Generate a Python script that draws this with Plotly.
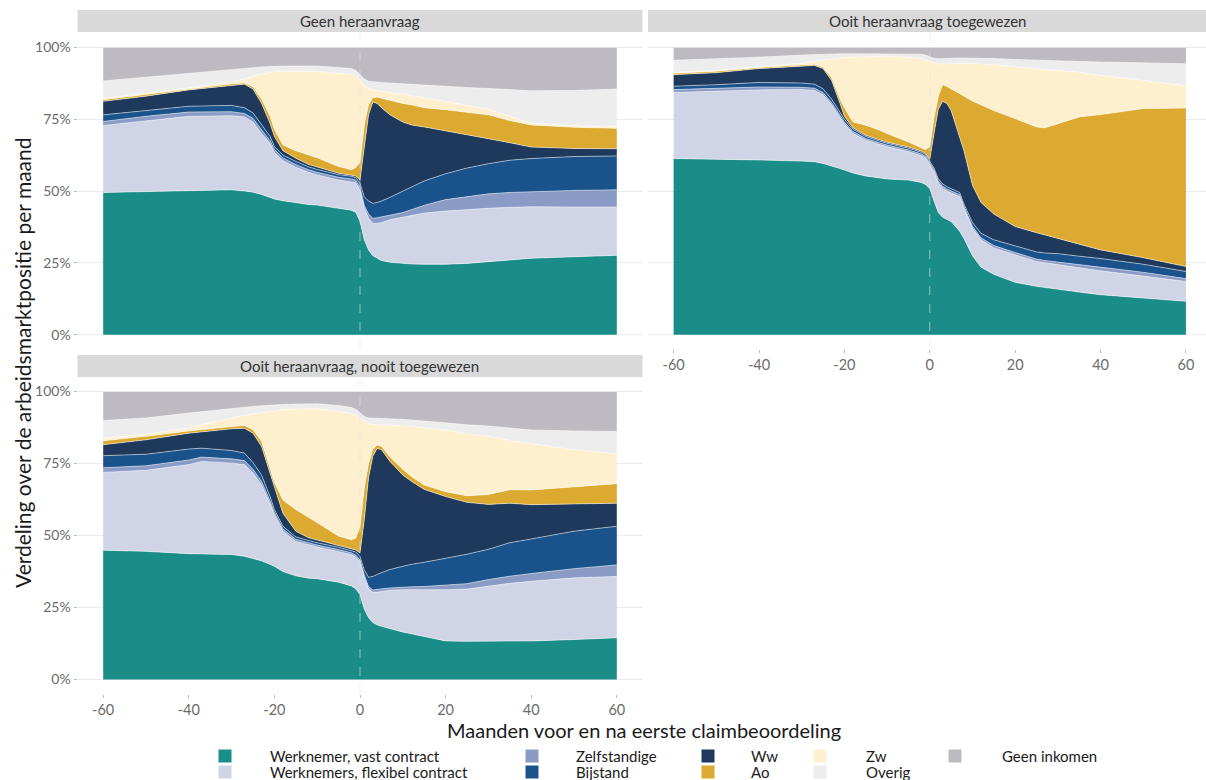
import plotly.graph_objects as go

W, H = 1206, 780

categories = ["Werknemer, vast contract", "Werknemers, flexibel contract", "Zelfstandige",
              "Bijstand", "Ww", "Ao", "Zw", "Overig", "Geen inkomen"]
colors = ["rgba(2,129,124,0.9)", "rgba(202,207,227,0.9)", "rgba(125,144,192,0.9)",
          "rgba(1,63,126,0.9)", "rgba(6,36,74,0.9)", "rgba(216,161,27,0.9)",
          "rgba(254,238,202,0.9)", "rgba(235,235,235,0.9)", "rgba(182,178,187,0.9)"]
legend_colors = ["#1B8E89", "#CFD4E6", "#8A9BC6", "#1A528B", "#1F3A5C",
                 "#DCAA31", "#FEF0CF", "#EDEDED", "#BDBAC2"]

panel_titles = ["Geen heraanvraag", "Ooit heraanvraag toegewezen", "Ooit heraanvraag, nooit toegewezen"]

# ---- Panel 1: Geen heraanvraag ----
x1 = [-60, -50, -40, -30, -27, -25, -23, -21, -20, -18, -15, -12, -10, -5, -2, -1, 0,
      1, 2, 3, 4, 5, 7, 10, 12, 15, 20, 25, 30, 35, 40, 50, 60]
p1_vast = [49.5, 49.8, 50.2, 50.4, 50.0, 49.6, 48.8, 47.8, 47.2, 46.6, 45.9, 45.3, 45.1, 44.1, 43.3, 42.6, 39.5,
           33.0, 29.5, 27.5, 26.5, 25.8, 25.2, 24.8, 24.6, 24.5, 24.5, 24.8, 25.3, 26.0, 26.6, 27.0, 27.6]
p1_flex = [23.3, 24.7, 25.8, 25.8, 25.8, 24.4, 21.2, 18.7, 16.3, 13.9, 12.4, 11.2, 10.5, 9.7, 10.0, 10.3, 10.8,
           11.0, 11.0, 11.3, 12.2, 13.2, 14.8, 16.0, 16.9, 17.8, 18.5, 18.8, 18.7, 18.3, 17.9, 17.4, 16.8]
p1_zelf = [1.4, 1.5, 1.5, 1.4, 1.2, 1.3, 1.3, 1.0, 1.0, 1.0, 0.9, 0.9, 0.9, 1.0, 0.9, 0.9, 1.2,
           1.0, 1.5, 1.7, 2.0, 2.0, 1.8, 1.7, 2.0, 2.7, 4.0, 4.4, 5.0, 5.2, 5.3, 5.8, 6.0]
p1_bijstand = [2.3, 2.0, 2.0, 2.2, 2.0, 1.9, 1.7, 1.5, 1.0, 1.0, 1.1, 1.0, 1.0, 0.9, 0.9, 0.9, 1.2,
               3.0, 4.5, 5.2, 5.3, 5.5, 6.0, 7.5, 8.0, 8.5, 9.0, 10.0, 10.5, 11.2, 11.5, 11.8, 11.8]
p1_ww = [4.7, 5.0, 5.7, 7.1, 8.2, 8.3, 7.5, 4.5, 3.5, 1.5, 1.1, 0.8, 0.8, 0.5, 0.4, 0.5, 1.1,
         17.5, 30.0, 35.3, 34.5, 32.5, 28.7, 24.0, 21.5, 18.8, 15.0, 11.7, 8.7, 6.1, 4.0, 2.8, 2.5]
p1_ao = [0.6, 0.6, 0.4, 0.4, 0.4, 0.8, 1.5, 2.5, 2.5, 2.0, 2.6, 3.2, 3.3, 2.3, 1.9, 3.0, 6.2,
         7.5, 3.5, 1.5, 2.2, 3.3, 5.0, 6.5, 7.0, 6.7, 7.3, 7.8, 8.3, 7.7, 7.7, 7.4, 7.1]
p1_zw = [0.5, 0.4, 0.3, 0.7, 1.4, 3.7, 8.8, 15.2, 20.0, 25.7, 27.8, 29.3, 30.0, 32.5, 33.2, 32.0, 28.6,
         13.5, 5.6, 2.7, 2.3, 2.5, 2.8, 3.1, 3.2, 3.5, 2.9, 2.5, 2.0, 1.5, 0.6, 0.5, 0.6]
p1_overig = [6.0, 5.6, 5.1, 4.4, 3.8, 3.0, 2.4, 2.1, 1.9, 1.8, 1.7, 1.8, 1.9, 2.0, 2.0, 1.8, 1.9,
             2.5, 2.6, 2.8, 2.9, 3.0, 3.3, 3.7, 3.9, 4.3, 5.2, 6.0, 7.2, 9.2, 11.3, 12.3, 13.1]
p1_geen = [11.7, 10.4, 9.0, 7.6, 7.2, 7.0, 6.8, 6.7, 6.6, 6.5, 6.5, 6.5, 6.5, 7.0, 7.4, 8.0, 9.5,
           11.0, 11.8, 12.0, 12.1, 12.2, 12.4, 12.7, 12.9, 13.2, 13.6, 14.0, 14.3, 14.8, 15.1, 15.0, 14.5]

# ---- Panel 2: Ooit heraanvraag toegewezen ----
x2 = [-60, -50, -40, -30, -27, -25, -23, -21, -20, -18, -15, -12, -10, -5, -2, -1, 0,
      1, 2, 3, 4, 5, 7, 8, 10, 12, 15, 20, 25, 27, 30, 35, 40, 50, 60]
p2_vast = [61.3, 61.1, 60.8, 60.4, 60.2, 59.6, 58.8, 57.8, 57.3, 56.3, 55.2, 54.6, 54.2, 53.8, 53.0, 52.3, 50.9,
           46.5, 42.5, 40.9, 40.0, 39.4, 36.0, 33.5, 27.5, 23.5, 21.0, 18.2, 16.8, 16.4, 15.6, 14.8, 13.9, 12.7, 11.6]
p2_flex = [23.0, 23.7, 24.4, 24.9, 24.8, 23.9, 21.2, 17.7, 16.0, 13.7, 12.5, 11.7, 11.2, 9.9, 9.3, 9.2, 7.9,
           10.0, 10.2, 10.1, 10.0, 9.9, 12.0, 10.5, 9.5, 9.5, 9.2, 9.6, 8.7, 8.6, 8.7, 8.4, 8.3, 7.7, 6.9]
p2_zelf = [1.0, 1.0, 1.0, 0.8, 0.8, 0.8, 0.8, 0.8, 0.7, 0.7, 0.6, 0.6, 0.6, 0.6, 0.6, 0.6, 0.7,
           0.8, 0.8, 0.7, 0.7, 0.7, 0.7, 0.7, 0.7, 0.7, 0.8, 0.8, 0.8, 0.8, 1.0, 1.2, 1.3, 1.3, 1.0]
p2_bijstand = [1.2, 1.2, 1.6, 1.5, 1.4, 1.3, 1.2, 1.2, 1.0, 0.8, 0.7, 0.6, 0.6, 0.6, 0.6, 0.6, 0.7,
               0.7, 0.8, 0.8, 0.8, 0.8, 0.8, 0.8, 1.3, 1.6, 2.0, 2.3, 2.5, 2.6, 2.9, 2.9, 3.0, 2.8, 2.5]
p2_ww = [4.0, 4.2, 4.8, 5.9, 6.5, 7.0, 6.5, 2.9, 1.0, 0.5, 0.4, 0.4, 0.4, 0.4, 0.4, 0.4, 0.8,
         12.0, 24.2, 28.7, 29.0, 27.2, 19.5, 18.5, 13.0, 10.7, 9.0, 6.7, 6.7, 6.3, 5.3, 4.2, 3.0, 2.3, 1.7]
p2_ao = [0.5, 0.5, 0.4, 0.4, 0.4, 0.5, 1.0, 1.6, 3.0, 2.0, 3.5, 3.4, 3.0, 1.8, 1.1, 1.3, 4.5,
         5.5, 4.5, 5.8, 6.0, 7.5, 14.9, 19.0, 29.3, 34.0, 36.0, 37.6, 36.8, 37.3, 40.0, 44.3, 47.1, 51.9, 55.2]
p2_zw = [0.3, 0.3, 0.3, 0.6, 1.1, 2.5, 6.5, 14.3, 17.4, 22.6, 23.9, 25.6, 26.9, 29.5, 31.1, 31.2, 29.5,
         19.1, 11.3, 7.2, 7.7, 8.8, 10.6, 11.5, 13.1, 14.3, 16.0, 18.0, 20.3, 20.5, 18.5, 15.5, 13.7, 9.8, 7.7]
p2_overig = [4.2, 4.0, 3.3, 2.8, 2.3, 2.0, 1.7, 1.5, 1.4, 1.2, 1.0, 0.9, 0.9, 1.2, 1.5, 1.7, 1.7,
             1.6, 1.7, 1.8, 1.9, 1.9, 1.8, 1.8, 1.8, 1.9, 2.1, 2.6, 2.9, 3.1, 3.3, 3.8, 4.6, 6.1, 7.7]
p2_geen = [4.5, 4.0, 3.4, 2.7, 2.5, 2.4, 2.3, 2.2, 2.2, 2.2, 2.2, 2.2, 2.2, 2.2, 2.4, 2.7, 3.3,
           3.8, 4.0, 4.0, 3.9, 3.8, 3.7, 3.7, 3.8, 3.8, 3.9, 4.2, 4.5, 4.6, 4.7, 4.9, 5.1, 5.4, 5.7]

# ---- Panel 3: Ooit heraanvraag, nooit toegewezen ----
x3 = [-60, -50, -40, -37, -30, -27, -25, -23, -21, -20, -18, -15, -12, -10, -5, -2, -1, 0,
      1, 2, 3, 4, 5, 7, 10, 12, 15, 20, 25, 30, 35, 40, 50, 60]
p3_vast = [44.9, 44.5, 43.7, 43.6, 43.4, 42.8, 42.0, 41.2, 40.0, 39.3, 37.5, 36.0, 35.2, 35.0, 33.8, 32.5, 31.5, 29.5,
           24.5, 21.5, 19.8, 19.0, 18.5, 17.6, 16.5, 15.9, 15.0, 13.4, 13.3, 13.3, 13.3, 13.4, 13.9, 14.5]
p3_flex = [27.0, 28.1, 30.9, 32.1, 31.7, 31.8, 29.7, 26.3, 21.0, 17.8, 14.0, 11.9, 11.6, 11.0, 10.6, 10.8, 11.0, 11.3,
           11.0, 10.0, 10.5, 11.3, 12.1, 13.4, 14.7, 15.3, 16.1, 17.8, 18.1, 19.1, 20.1, 20.7, 21.4, 21.3]
p3_zelf = [1.6, 1.6, 1.6, 1.5, 1.5, 1.4, 1.3, 1.3, 1.0, 0.9, 0.8, 0.8, 0.7, 0.7, 0.7, 0.7, 0.7, 0.7,
           0.8, 0.8, 0.8, 0.9, 0.9, 0.8, 0.9, 1.0, 1.2, 1.6, 1.9, 2.3, 2.5, 2.7, 3.2, 4.0]
p3_bijstand = [4.2, 4.0, 3.8, 3.1, 2.9, 2.6, 2.3, 2.2, 1.5, 1.0, 0.9, 0.8, 0.8, 0.8, 0.8, 0.8, 1.1, 1.2,
               1.7, 3.2, 4.7, 5.3, 5.5, 6.4, 7.2, 7.8, 8.4, 9.2, 10.2, 10.5, 11.6, 12.0, 13.0, 13.4]
p3_ww = [3.8, 5.0, 5.5, 5.7, 7.5, 8.6, 10.2, 9.9, 8.5, 7.9, 4.5, 2.0, 0.9, 0.9, 0.5, 0.5, 0.7, 1.2,
         17.5, 34.5, 41.7, 43.7, 42.8, 37.5, 31.7, 28.8, 25.3, 21.5, 18.0, 15.6, 13.7, 11.9, 9.5, 8.0]
p3_ao = [1.4, 1.2, 0.8, 0.8, 0.8, 1.0, 1.2, 1.8, 1.5, 1.6, 4.6, 7.5, 7.1, 6.1, 3.4, 3.2, 4.1, 9.1,
         11.0, 5.0, 2.5, 1.2, 1.2, 1.6, 2.0, 1.7, 1.5, 1.7, 2.3, 3.4, 4.7, 5.1, 6.0, 6.8]
p3_zw = [0.9, 0.8, 1.0, 1.7, 3.0, 3.5, 5.5, 9.9, 19.5, 24.8, 31.3, 34.9, 37.8, 39.5, 43.2, 43.8, 42.7, 37.8,
         23.0, 13.8, 8.5, 7.0, 7.3, 11.0, 15.1, 17.3, 20.0, 21.4, 21.5, 20.2, 17.1, 16.0, 12.8, 10.4]
p3_overig = [6.1, 5.6, 5.2, 4.5, 3.4, 2.8, 2.6, 2.4, 2.2, 2.1, 1.9, 1.7, 1.6, 1.7, 2.1, 2.1, 2.0, 1.7,
             1.8, 2.0, 2.2, 2.2, 2.2, 2.2, 2.2, 2.2, 2.2, 2.5, 3.1, 3.6, 4.2, 4.8, 6.5, 7.7]
p3_geen = [10.1, 9.2, 7.5, 7.0, 5.8, 5.5, 5.2, 5.0, 4.8, 4.6, 4.5, 4.4, 4.3, 4.3, 4.9, 5.6, 6.2, 7.5,
           8.7, 9.2, 9.3, 9.4, 9.5, 9.5, 9.7, 10.0, 10.3, 10.9, 11.6, 12.0, 12.8, 13.4, 13.7, 13.9]

panels = [
    (x1, [p1_vast, p1_flex, p1_zelf, p1_bijstand, p1_ww, p1_ao, p1_zw, p1_overig, p1_geen]),
    (x2, [p2_vast, p2_flex, p2_zelf, p2_bijstand, p2_ww, p2_ao, p2_zw, p2_overig, p2_geen]),
    (x3, [p3_vast, p3_flex, p3_zelf, p3_bijstand, p3_ww, p3_ao, p3_zw, p3_overig, p3_geen]),
]

x_ticks = [-60, -40, -20, 0, 20, 40, 60]
x_ticktext = ["-60", "-40", "-20", "0", "20", "40", "60"]
y_ticks = [0, 25, 50, 75, 100]
y_ticktext = ["0%", "25%", "50%", "75%", "100%"]

FONT = "Lato, 'Open Sans', sans-serif"

def px(x):
    return x / W

def py(y):
    return 1 - y / H

fig = go.Figure()
for p, (xs, series) in enumerate(panels, start=1):
    ax = "" if p == 1 else str(p)
    for name, vals, col in zip(categories, series, colors):
        fig.add_trace(go.Scatter(
            x=xs, y=vals, name=name, stackgroup=f"g{p}", mode="lines",
            line=dict(width=0.6, color="rgba(255,255,255,0.85)"),
            fillcolor=col, showlegend=False,
            xaxis="x" + ax, yaxis="y" + ax,
            hovertemplate="%{x}: %{y:.1f}%<extra>" + name + "</extra>",
        ))

# panel geometry in pixels: (x0, x1, y_top, y_bottom, strip_top, strip_bottom)
geo = {
    1: (77.5, 642.5, 33, 349, 10, 32),
    2: (648, 1206, 33, 349, 10, 32),
    3: (77.5, 642.5, 377, 694, 355, 377),
}
xranges = {1: [-66, 66], 2: [-66, 64.7], 3: [-66, 66]}

layout = dict(
    width=W, height=H,
    margin=dict(l=0, r=0, t=0, b=0),
    paper_bgcolor="white", plot_bgcolor="white",
    font=dict(family=FONT, color="#333333"),
    showlegend=False,
)
for p in (1, 2, 3):
    x0, x1_, yt, yb, st, sb = geo[p]
    ax = "" if p == 1 else str(p)
    show_x = p in (2, 3)
    show_y = p in (1, 3)
    layout["xaxis" + ax] = dict(
        domain=[px(x0), px(x1_)], range=xranges[p], anchor="y" + ax,
        tickvals=x_ticks, ticktext=x_ticktext, showticklabels=show_x, showgrid=False, zeroline=False,
        ticks="outside" if show_x else "", ticklen=3, tickcolor="#BBBBBB",
        tickfont=dict(size=14.5, color="#6b6b6b", family=FONT), showline=False,
    )
    layout["yaxis" + ax] = dict(
        domain=[py(yb), py(yt)], range=[-5, 105], anchor="x" + ax,
        tickvals=y_ticks, ticktext=y_ticktext, showticklabels=show_y,
        showgrid=True, gridcolor="#EBEBEB", gridwidth=1, zeroline=False,
        ticks="outside" if show_y else "", ticklen=3, tickcolor="#BBBBBB",
        tickfont=dict(size=14, color="#6b6b6b", family=FONT), showline=False,
    )
fig.update_layout(**layout)

shapes = []
annotations = []
for p in (1, 2, 3):
    x0, x1_, yt, yb, st, sb = geo[p]
    ax = "" if p == 1 else str(p)
    shapes.append(dict(type="rect", xref="paper", yref="paper",
                       x0=px(x0), x1=px(x1_), y0=py(sb), y1=py(st),
                       fillcolor="#D9D9D9", line=dict(width=0), layer="below"))
    annotations.append(dict(text=panel_titles[p - 1], xref="paper", yref="paper",
                            x=px((x0 + x1_) / 2), y=py((st + sb) / 2),
                            showarrow=False, xanchor="center", yanchor="middle",
                            font=dict(size=15, color="#333333", family=FONT)))
    shapes.append(dict(type="line", xref="x" + ax, yref=("y" + ax) + " domain",
                       x0=0, x1=0, y0=0, y1=1, layer="above",
                       line=dict(color="rgba(225,225,225,0.6)", width=1, dash="dash")))

annotations.append(dict(text="Verdeling over de arbeidsmarktpositie per maand",
                        xref="paper", yref="paper", x=px(22), y=py(363),
                        textangle=-90, showarrow=False, xanchor="center", yanchor="middle",
                        font=dict(size=21, color="#1a1a1a", family=FONT)))
annotations.append(dict(text="Maanden voor en na eerste claimbeoordeling",
                        xref="paper", yref="paper", x=px(644), y=py(730),
                        showarrow=False, xanchor="center", yanchor="middle", borderpad=0,
                        font=dict(size=20, color="#1a1a1a", family=FONT)))

# manual legend: 5 columns x 2 rows, column-major
col_swatch_x = [225, 532, 708, 820, 955]
col_text_x = [269, 575, 750, 865, 1001]
row_y = [756, 772]
for i, (name, col) in enumerate(zip(categories, legend_colors)):
    c, r = i // 2, i % 2
    cx, cy = col_swatch_x[c], row_y[r]
    shapes.append(dict(type="rect", xref="paper", yref="paper",
                       x0=px(cx - 6.5), x1=px(cx + 6.5), y0=py(cy + 6.5), y1=py(cy - 6.5),
                       fillcolor=col, line=dict(width=0)))
    annotations.append(dict(text=name, xref="paper", yref="paper",
                            x=px(col_text_x[c]), y=py(cy), showarrow=False,
                            xanchor="left", yanchor="middle", borderpad=0,
                            font=dict(size=15, color="#1a1a1a", family=FONT)))

fig.update_layout(shapes=shapes, annotations=annotations)
fig.write_html("out.html", config={"displayModeBar": False},
               post_script="document.body.style.margin='0';document.body.style.overflow='hidden';")
